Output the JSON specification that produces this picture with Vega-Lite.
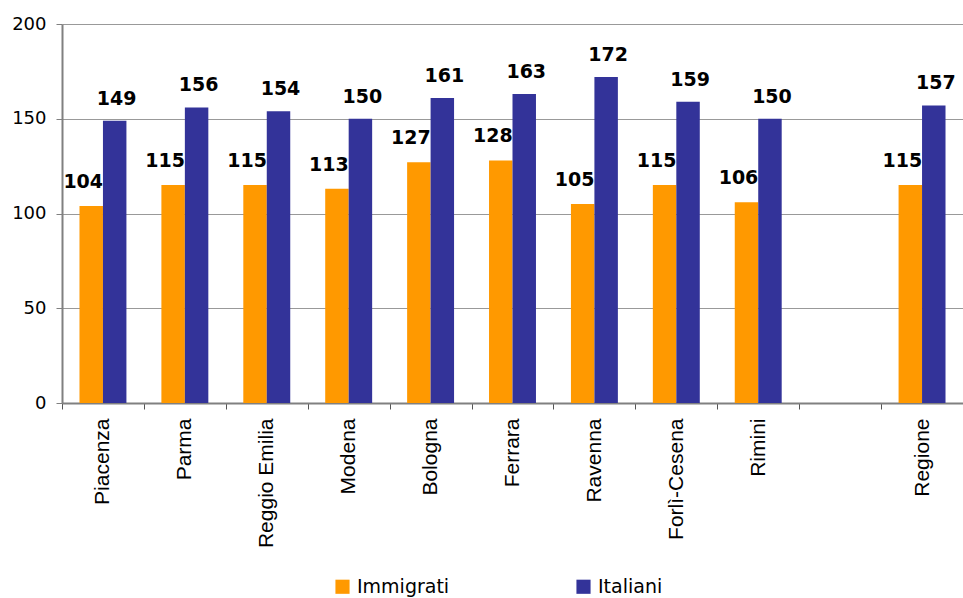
{
  "$schema": "https://vega.github.io/schema/vega-lite/v6.json",
  "width": 901,
  "height": 379,
  "autosize": {"type": "none"},
  "padding": {"left": 62, "top": 24, "right": 0, "bottom": 195},
  "background": "white",
  "config": {"view": {"stroke": null}},
  "data": {"values": [
    {"region": "Piacenza", "group": "Immigrati", "value": 104},
    {"region": "Piacenza", "group": "Italiani", "value": 149},
    {"region": "Parma", "group": "Immigrati", "value": 115},
    {"region": "Parma", "group": "Italiani", "value": 156},
    {"region": "Reggio Emilia", "group": "Immigrati", "value": 115},
    {"region": "Reggio Emilia", "group": "Italiani", "value": 154},
    {"region": "Modena", "group": "Immigrati", "value": 113},
    {"region": "Modena", "group": "Italiani", "value": 150},
    {"region": "Bologna", "group": "Immigrati", "value": 127},
    {"region": "Bologna", "group": "Italiani", "value": 161},
    {"region": "Ferrara", "group": "Immigrati", "value": 128},
    {"region": "Ferrara", "group": "Italiani", "value": 163},
    {"region": "Ravenna", "group": "Immigrati", "value": 105},
    {"region": "Ravenna", "group": "Italiani", "value": 172},
    {"region": "Forlì-Cesena", "group": "Immigrati", "value": 115},
    {"region": "Forlì-Cesena", "group": "Italiani", "value": 159},
    {"region": "Rimini", "group": "Immigrati", "value": 106},
    {"region": "Rimini", "group": "Italiani", "value": 150},
    {"region": "Regione", "group": "Immigrati", "value": 115},
    {"region": "Regione", "group": "Italiani", "value": 157}
  ]},
  "encoding": {
    "x": {
      "field": "region", "type": "nominal",
      "scale": {"domain": ["Piacenza", "Parma", "Reggio Emilia", "Modena", "Bologna", "Ferrara", "Ravenna", "Forlì-Cesena", "Rimini", " ", "Regione"], "paddingInner": 0, "paddingOuter": 0},
      "axis": {"title": null, "labelAngle": -90, "labelAlign": "right", "labelBaseline": "middle", "labelFont": "Liberation Sans", "labelFontSize": 21, "labelColor": "black", "labelPadding": 9, "tickBand": "extent", "tickSize": 6, "tickColor": "#555", "domainColor": "#808080", "domainWidth": 2}
    },
    "y": {
      "field": "value", "type": "quantitative",
      "scale": {"domain": [0, 200]},
      "axis": {"title": null, "values": [0, 50, 100, 150, 200], "grid": true, "gridColor": "#999", "domainColor": "#808080", "domainWidth": 2, "tickColor": "#808080", "tickSize": 6, "labelFont": "DejaVu Sans", "labelFontSize": 18, "labelColor": "black", "labelPadding": 10}
    },
    "xOffset": {"field": "group", "type": "nominal", "scale": {"domain": ["Immigrati", "Italiani"], "paddingOuter": 0.745, "paddingInner": 0}}
  },
  "layer": [
    {
      "mark": {"type": "bar"},
      "encoding": {
        "color": {
          "field": "group", "type": "nominal",
          "scale": {"domain": ["Immigrati", "Italiani"], "range": ["#FF9900", "#333399"]},
          "legend": {"title": null, "orient": "none", "legendX": 271, "legendY": 553, "direction": "horizontal", "symbolType": "square", "symbolSize": 200, "symbolStrokeWidth": 0, "labelFont": "DejaVu Sans", "labelFontSize": 19, "labelColor": "black", "labelOffset": 5, "columnPadding": 124}
        }
      }
    },
    {
      "transform": [{"filter": "datum.group == 'Immigrati'"}],
      "mark": {"type": "text", "baseline": "bottom", "dy": -14, "dx": -8, "font": "DejaVu Sans", "fontWeight": "bold", "fontSize": 19, "color": "black"},
      "encoding": {"text": {"field": "value", "type": "quantitative", "format": "d"}}
    },
    {
      "transform": [{"filter": "datum.group == 'Italiani'"}],
      "mark": {"type": "text", "baseline": "bottom", "dy": -12, "dx": 2, "font": "DejaVu Sans", "fontWeight": "bold", "fontSize": 19, "color": "black"},
      "encoding": {"text": {"field": "value", "type": "quantitative", "format": "d"}}
    }
  ]
}
